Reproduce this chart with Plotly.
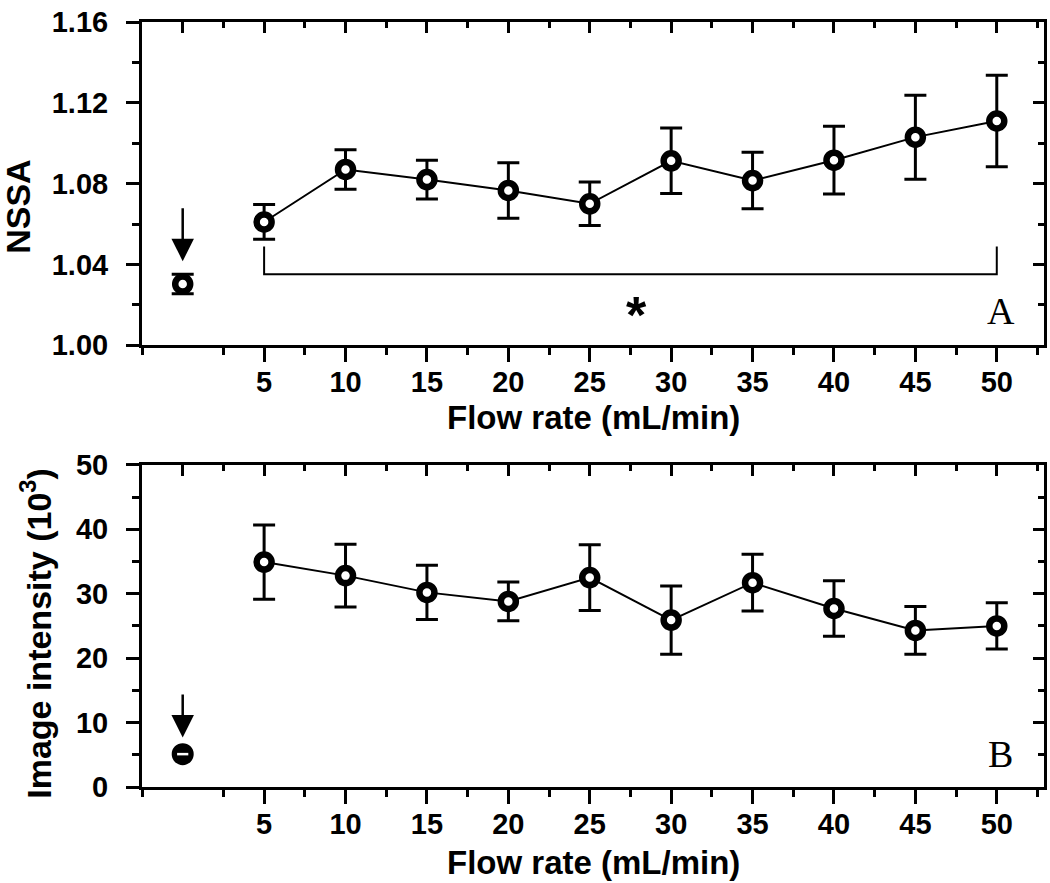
import plotly.graph_objects as go

# ---------------- data ----------------
flow = [5, 10, 15, 20, 25, 30, 35, 40, 45, 50]
nssa = [1.061, 1.087, 1.082, 1.0766, 1.070, 1.0913, 1.0815, 1.0916, 1.103, 1.111]
nssa_err = [0.0086, 0.0098, 0.0096, 0.0137, 0.0108, 0.0162, 0.014, 0.0168, 0.0208, 0.0227]
ctrl_x = [0]
nssa_ctrl = [1.0303]
nssa_ctrl_err = [0.0048]

intensity = [34.9, 32.8, 30.2, 28.8, 32.5, 25.9, 31.7, 27.7, 24.3, 25.0]
intensity_err = [5.75, 4.85, 4.2, 3.0, 5.1, 5.3, 4.4, 4.3, 3.7, 3.6]
intensity_ctrl = [5.1]
intensity_ctrl_err = [0.4]

bracket_x = [5, 5, 50, 50]
bracket_y = [1.0489, 1.0351, 1.0351, 1.0489]

x_major = [5, 10, 15, 20, 25, 30, 35, 40, 45, 50]
x_major_top = [0, 5, 10, 15, 20, 25, 30, 35, 40, 45, 50]
x_minor = [-2.5, 2.5, 7.5, 12.5, 17.5, 22.5, 27.5, 32.5, 37.5, 42.5, 47.5, 52.5]
y1_major = [1.00, 1.04, 1.08, 1.12, 1.16]
y1_minor = [1.02, 1.06, 1.10, 1.14]
y2_major = [0, 10, 20, 30, 40, 50]
y2_minor = [5, 15, 25, 35, 45]
x_range = [-2.5, 52.9]

FONT = "Liberation Sans, Arial, sans-serif"
SERIF = "Liberation Serif, Times New Roman, serif"
BLACK = "black"

fig = go.Figure()

err_style = dict(type="data", thickness=3, width=11, color=BLACK)
marker_open = dict(symbol="circle", size=15, color="white", line=dict(color=BLACK, width=6.5))

# ---- top panel ----
fig.add_trace(go.Scatter(x=bracket_x, y=bracket_y, mode="lines",
                         line=dict(color=BLACK, width=2), xaxis="x", yaxis="y",
                         showlegend=False, hoverinfo="skip"))
fig.add_trace(go.Scatter(x=flow, y=nssa, mode="lines+markers",
                         error_y=dict(array=nssa_err, **err_style),
                         line=dict(color=BLACK, width=2), marker=marker_open,
                         xaxis="x", yaxis="y", showlegend=False))
fig.add_trace(go.Scatter(x=ctrl_x, y=nssa_ctrl, mode="markers",
                         error_y=dict(array=nssa_ctrl_err, **err_style),
                         marker=marker_open, xaxis="x", yaxis="y", showlegend=False))

# ---- bottom panel ----
fig.add_trace(go.Scatter(x=flow, y=intensity, mode="lines+markers",
                         error_y=dict(array=intensity_err, **err_style),
                         line=dict(color=BLACK, width=2), marker=marker_open,
                         xaxis="x2", yaxis="y2", showlegend=False))
fig.add_trace(go.Scatter(x=ctrl_x, y=intensity_ctrl, mode="markers",
                         marker=dict(symbol="circle", size=20, color=BLACK,
                                     line=dict(color=BLACK, width=2)),
                         xaxis="x2", yaxis="y2", showlegend=False))
fig.add_trace(go.Scatter(x=ctrl_x, y=intensity_ctrl, mode="markers",
                         marker=dict(symbol="line-ew", size=8,
                                     line=dict(color="white", width=2.5)),
                         xaxis="x2", yaxis="y2", showlegend=False, hoverinfo="skip"))

# invisible traces to activate mirror axes
for xa, ya, xs, ys in [("x3", "y", flow, nssa), ("x", "y3", flow, nssa),
                       ("x4", "y2", flow, intensity), ("x2", "y4", flow, intensity)]:
    fig.add_trace(go.Scatter(x=xs, y=ys, mode="markers", marker=dict(opacity=0),
                             xaxis=xa, yaxis=ya, showlegend=False, hoverinfo="skip"))

tickfont = dict(family=FONT, size=29, color=BLACK, weight="bold")

def xaxis_bottom(anchor):
    return dict(anchor=anchor, domain=[0, 1], range=x_range, tickmode="array",
                tickvals=x_major, ticktext=[str(v) for v in x_major],
                ticks="outside", ticklen=14, tickwidth=3, tickcolor=BLACK,
                showline=True, linewidth=3, linecolor=BLACK, mirror=False,
                showgrid=False, zeroline=False, tickfont=tickfont,
                ticklabelstandoff=-5,
                minor=dict(tickmode="array", tickvals=x_minor, ticks="outside",
                           ticklen=7, tickwidth=3, tickcolor=BLACK, showgrid=False))

def xaxis_top(over, anchor):
    return dict(overlaying=over, anchor=anchor, side="top", range=x_range,
                tickmode="array", tickvals=x_major_top, ticks="inside", ticklen=11,
                tickwidth=3, tickcolor=BLACK, showticklabels=False,
                showline=True, linewidth=3, linecolor=BLACK,
                showgrid=False, zeroline=False,
                minor=dict(tickmode="array", tickvals=x_minor, ticks="inside",
                           ticklen=6, tickwidth=3, tickcolor=BLACK, showgrid=False))

def yaxis_left(anchor, domain, rng, major, minor, fmt):
    return dict(anchor=anchor, domain=domain, range=rng, tickmode="array",
                tickvals=major, ticktext=[fmt.format(v) for v in major],
                ticks="outside", ticklen=13, tickwidth=3, tickcolor=BLACK,
                showline=True, linewidth=3, linecolor=BLACK,
                showgrid=False, zeroline=False, tickfont=tickfont,
                ticklabelstandoff=12,
                minor=dict(tickmode="array", tickvals=minor, ticks="outside",
                           ticklen=7, tickwidth=3, tickcolor=BLACK, showgrid=False))

def yaxis_right(over, anchor, rng, major, minor):
    return dict(overlaying=over, anchor=anchor, side="right", range=rng,
                tickmode="array", tickvals=major, ticks="inside", ticklen=11,
                tickwidth=3, tickcolor=BLACK, showticklabels=False,
                showline=True, linewidth=3, linecolor=BLACK,
                showgrid=False, zeroline=False,
                minor=dict(tickmode="array", tickvals=minor, ticks="inside",
                           ticklen=6, tickwidth=3, tickcolor=BLACK, showgrid=False))

top_dom = [0.5775, 1.0]
bot_dom = [0.0, 0.4212]

fig.update_layout(
    width=1050, height=883,
    margin=dict(l=142, r=6, t=13, b=96),
    paper_bgcolor="white", plot_bgcolor="white",
    font=dict(family=FONT, color=BLACK),
    xaxis=xaxis_bottom("y"),
    yaxis=yaxis_left("x", top_dom, [1.0, 1.16], y1_major, y1_minor, "{:.2f}"),
    xaxis2=xaxis_bottom("y2"),
    yaxis2=yaxis_left("x2", bot_dom, [0, 50], y2_major, y2_minor, "{:d}"),
    xaxis3=xaxis_top("x", "y"),
    yaxis3=yaxis_right("y", "x", [1.0, 1.16], y1_major, y1_minor),
    xaxis4=xaxis_top("x2", "y2"),
    yaxis4=yaxis_right("y2", "x2", [0, 50], y2_major, y2_minor),
    showlegend=False,
)

title_font = dict(family=FONT, size=33, color=BLACK, weight="bold")
ytitle_font = dict(family=FONT, size=34, color=BLACK, weight="bold")

annotations = [
    dict(text="Flow rate (mL/min)", xref="paper", yref="paper", x=0.5, y=0.4830,
         xanchor="center", yanchor="middle", showarrow=False, font=title_font),
    dict(text="Flow rate (mL/min)", xref="paper", yref="paper", x=0.5, y=-0.0982,
         xanchor="center", yanchor="middle", showarrow=False, font=title_font),
    dict(text="NSSA", xref="paper", yref="paper", x=-0.1375, y=0.7584,
         xanchor="center", yanchor="middle", textangle=-90, showarrow=False,
         font=ytitle_font),
    dict(text="Image intensity (10<sup>3</sup>)", xref="paper", yref="paper",
         x=-0.1175, y=0.2003, xanchor="center", yanchor="middle", textangle=-90,
         showarrow=False, font=ytitle_font),
    dict(text="*", xref="x", yref="y", x=27.9, y=1.0150, xanchor="center",
         yanchor="middle", showarrow=False,
         font=dict(family=FONT, size=52, color=BLACK, weight="bold")),
    dict(text="A", xref="x", yref="y", x=50.25, y=1.0171, xanchor="center",
         yanchor="middle", showarrow=False, font=dict(family=SERIF, size=38, color=BLACK)),
    dict(text="B", xref="x2", yref="y2", x=50.2, y=5.06, xanchor="center",
         yanchor="middle", showarrow=False, font=dict(family=SERIF, size=38, color=BLACK)),
    dict(text="", xref="x", yref="y", x=0, y=1.0416, axref="x", ayref="y",
         ax=0, ay=1.0685, showarrow=True, arrowhead=2, arrowsize=1.8,
         arrowwidth=2.5, arrowcolor=BLACK, standoff=0),
    dict(text="", xref="x2", yref="y2", x=0, y=7.7, axref="x2", ayref="y2",
         ax=0, ay=14.6, showarrow=True, arrowhead=2, arrowsize=1.8,
         arrowwidth=2.5, arrowcolor=BLACK, standoff=0),
]
fig.update_layout(annotations=annotations)

fig.write_html("out.html", config={"displayModeBar": False},
               post_script="document.body.style.margin='0px';")
